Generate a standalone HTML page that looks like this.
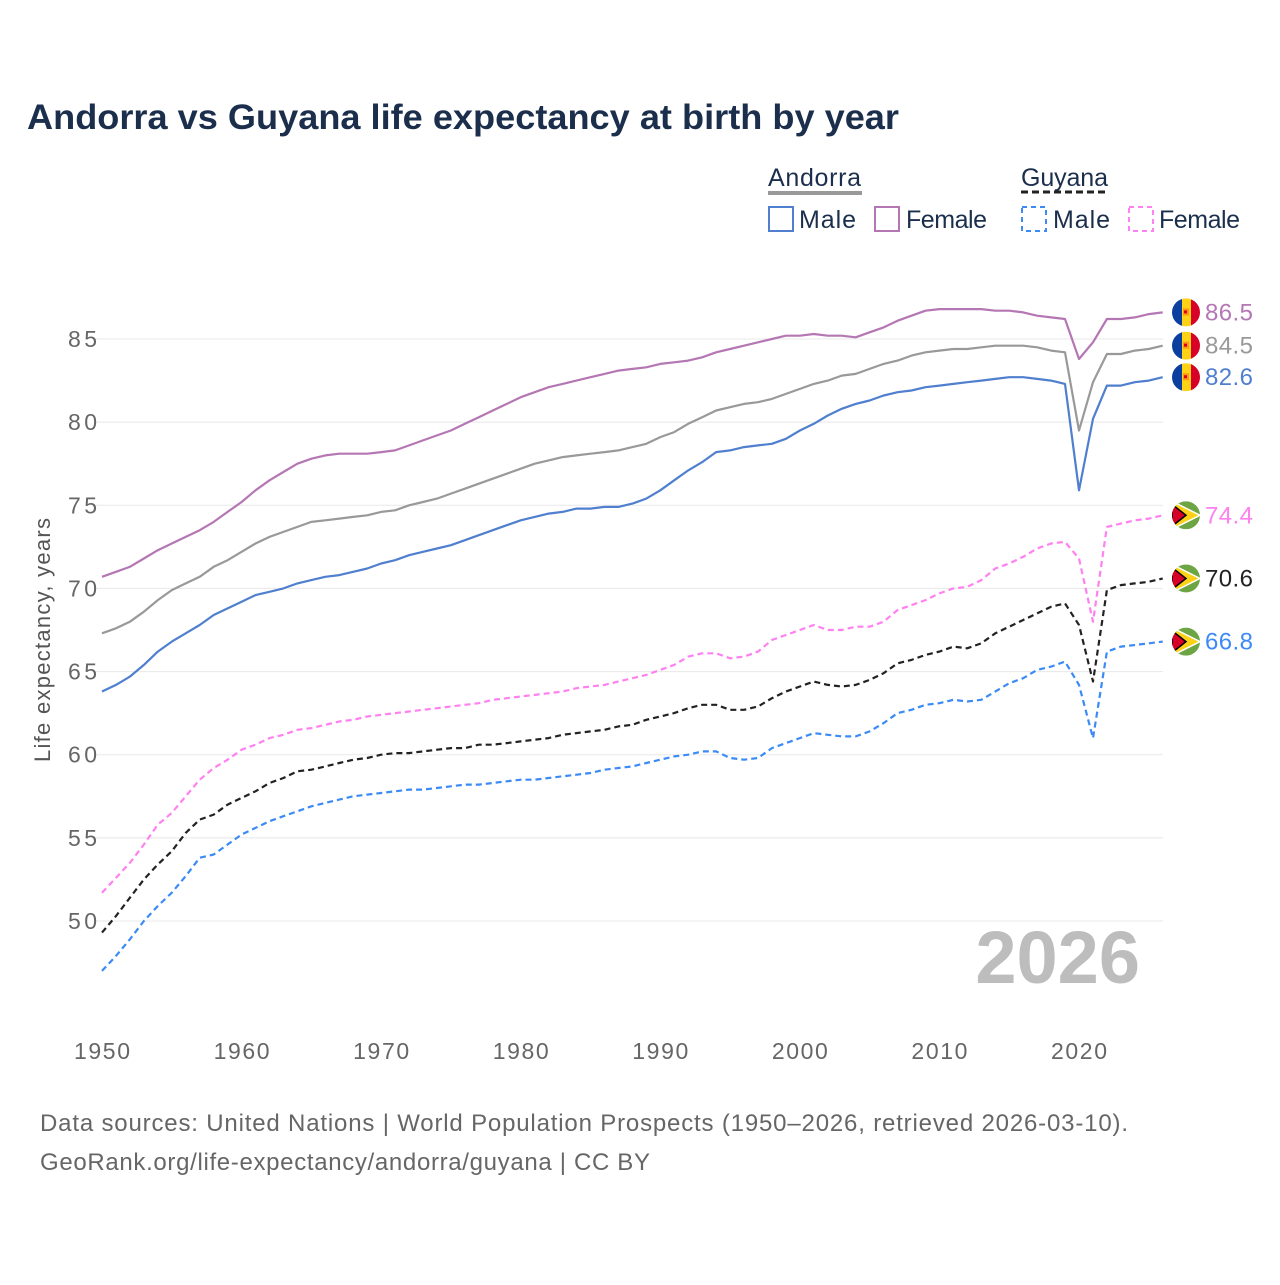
<!DOCTYPE html>
<html><head><meta charset="utf-8"><style>
body{margin:0;background:#fff;}
svg text{font-family:"Liberation Sans",sans-serif;}
</style></head><body>
<svg id="chart" width="1280" height="1280" xmlns="http://www.w3.org/2000/svg">
<rect width="1280" height="1280" fill="#fff"/>
<text x="27" y="129" font-size="35" font-weight="bold" fill="#1b2f4d" textLength="872" lengthAdjust="spacingAndGlyphs">Andorra vs Guyana life expectancy at birth by year</text>
<g>
<text x="768" y="186" font-size="25" fill="#1b2f4d" textLength="93">Andorra</text>
<line x1="768" x2="862" y1="193" y2="193" stroke="#999" stroke-width="4"/>
<text x="1021" y="186" font-size="25" fill="#1b2f4d" textLength="87">Guyana</text>
<line x1="1021" x2="1108" y1="192" y2="192" stroke="#222" stroke-width="3" stroke-dasharray="7,4"/>
<g><rect x="769" y="207" width="24" height="24" fill="none" stroke="#4f7fce" stroke-width="2"/><text x="799" y="228" font-size="25" fill="#1b2f4d" textLength="57">Male</text></g>
<g><rect x="875" y="207" width="24" height="24" fill="none" stroke="#b577b3" stroke-width="2"/><text x="906" y="228" font-size="25" fill="#1b2f4d" textLength="81">Female</text></g>
<g><rect x="1022" y="207" width="24" height="24" fill="none" stroke="#3b8af6" stroke-width="2" stroke-dasharray="5,4"/><text x="1053" y="228" font-size="25" fill="#1b2f4d" textLength="57">Male</text></g>
<g><rect x="1129" y="207" width="24" height="24" fill="none" stroke="#ff80f0" stroke-width="2" stroke-dasharray="5,4"/><text x="1159" y="228" font-size="25" fill="#1b2f4d" textLength="81">Female</text></g>
</g>
<text transform="translate(50,640) rotate(-90)" text-anchor="middle" font-size="22" fill="#555" textLength="244">Life expectancy, years</text>
<g id="grid"></g>
<text x="1140" y="983" text-anchor="end" font-size="74" font-weight="bold" fill="#bdbdbd">2026</text>
<g id="series"></g>
<g id="labels"></g>
<text x="40" y="1131" font-size="24" fill="#666" textLength="1088">Data sources: United Nations | World Population Prospects (1950–2026, retrieved 2026-03-10).</text>
<text x="40" y="1170" font-size="24" fill="#666" textLength="610">GeoRank.org/life-expectancy/andorra/guyana | CC BY</text>
</svg>
<script>
const startYear = 1950;
const yTicks = [50,55,60,65,70,75,80,85];
const xTicks = [1950,1960,1970,1980,1990,2000,2010,2020];
const andorraFemale = [70.7,71.0,71.3,71.8,72.3,72.7,73.1,73.5,74.0,74.6,75.2,75.9,76.5,77.0,77.5,77.8,78.0,78.1,78.1,78.1,78.2,78.3,78.6,78.9,79.2,79.5,79.9,80.3,80.7,81.1,81.5,81.8,82.1,82.3,82.5,82.7,82.9,83.1,83.2,83.3,83.5,83.6,83.7,83.9,84.2,84.4,84.6,84.8,85.0,85.2,85.2,85.3,85.2,85.2,85.1,85.4,85.7,86.1,86.4,86.7,86.8,86.8,86.8,86.8,86.7,86.7,86.6,86.4,86.3,86.2,83.8,84.8,86.2,86.2,86.3,86.5,86.6];
const andorraTotal = [67.3,67.6,68.0,68.6,69.3,69.9,70.3,70.7,71.3,71.7,72.2,72.7,73.1,73.4,73.7,74.0,74.1,74.2,74.3,74.4,74.6,74.7,75.0,75.2,75.4,75.7,76.0,76.3,76.6,76.9,77.2,77.5,77.7,77.9,78.0,78.1,78.2,78.3,78.5,78.7,79.1,79.4,79.9,80.3,80.7,80.9,81.1,81.2,81.4,81.7,82.0,82.3,82.5,82.8,82.9,83.2,83.5,83.7,84.0,84.2,84.3,84.4,84.4,84.5,84.6,84.6,84.6,84.5,84.3,84.2,79.5,82.4,84.1,84.1,84.3,84.4,84.6];
const andorraMale = [63.8,64.2,64.7,65.4,66.2,66.8,67.3,67.8,68.4,68.8,69.2,69.6,69.8,70.0,70.3,70.5,70.7,70.8,71.0,71.2,71.5,71.7,72.0,72.2,72.4,72.6,72.9,73.2,73.5,73.8,74.1,74.3,74.5,74.6,74.8,74.8,74.9,74.9,75.1,75.4,75.9,76.5,77.1,77.6,78.2,78.3,78.5,78.6,78.7,79.0,79.5,79.9,80.4,80.8,81.1,81.3,81.6,81.8,81.9,82.1,82.2,82.3,82.4,82.5,82.6,82.7,82.7,82.6,82.5,82.3,75.9,80.2,82.2,82.2,82.4,82.5,82.7];
const guyanaFemale = [51.7,52.6,53.5,54.6,55.8,56.5,57.5,58.5,59.2,59.7,60.3,60.6,61.0,61.2,61.5,61.6,61.8,62.0,62.1,62.3,62.4,62.5,62.6,62.7,62.8,62.9,63.0,63.1,63.3,63.4,63.5,63.6,63.7,63.8,64.0,64.1,64.2,64.4,64.6,64.8,65.1,65.4,65.9,66.1,66.1,65.8,65.9,66.2,66.9,67.2,67.5,67.8,67.5,67.5,67.7,67.7,68.0,68.7,69.0,69.3,69.7,70.0,70.1,70.5,71.2,71.5,71.9,72.4,72.7,72.8,71.8,68.0,73.7,73.9,74.1,74.2,74.4];
const guyanaTotal = [49.3,50.3,51.4,52.5,53.4,54.2,55.3,56.1,56.4,57.0,57.4,57.8,58.3,58.6,59.0,59.1,59.3,59.5,59.7,59.8,60.0,60.1,60.1,60.2,60.3,60.4,60.4,60.6,60.6,60.7,60.8,60.9,61.0,61.2,61.3,61.4,61.5,61.7,61.8,62.1,62.3,62.5,62.8,63.0,63.0,62.7,62.7,62.9,63.4,63.8,64.1,64.4,64.2,64.1,64.2,64.5,64.9,65.5,65.7,66.0,66.2,66.5,66.4,66.7,67.3,67.7,68.1,68.5,68.9,69.1,67.8,64.4,69.9,70.2,70.3,70.4,70.6];
const guyanaMale = [47.0,47.9,48.9,50.0,50.9,51.7,52.7,53.8,54.0,54.6,55.2,55.6,56.0,56.3,56.6,56.9,57.1,57.3,57.5,57.6,57.7,57.8,57.9,57.9,58.0,58.1,58.2,58.2,58.3,58.4,58.5,58.5,58.6,58.7,58.8,58.9,59.1,59.2,59.3,59.5,59.7,59.9,60.0,60.2,60.2,59.8,59.7,59.8,60.4,60.7,61.0,61.3,61.2,61.1,61.1,61.4,61.9,62.5,62.7,63.0,63.1,63.3,63.2,63.3,63.8,64.3,64.6,65.1,65.3,65.6,64.2,61.0,66.2,66.5,66.6,66.7,66.8];
const endLabels = ["86.5","84.5","82.6","74.4","70.6","66.8"];

const NS="http://www.w3.org/2000/svg";
function xScale(yr){return 102+(yr-1950)*(1079-102)/70;}
function yScale(v){return 921-(v-50)*(921-339)/35;}
function mk(tag,attrs,parent){const e=document.createElementNS(NS,tag);for(const k in attrs)e.setAttribute(k,attrs[k]);parent.appendChild(e);return e;}
const grid=document.getElementById('grid');
yTicks.forEach(t=>{
  const l=mk('line',{x1:95,x2:1163,y1:yScale(t),y2:yScale(t),stroke:'#e8e8e8','stroke-width':1},grid);
  
  
  const tx=mk('text',{x:97,y:yScale(t)+8,'text-anchor':'end','font-size':23,fill:'#666',textLength:29},grid);
  tx.textContent=t;
  
  
});
xTicks.forEach(t=>{
  const tx=mk('text',{x:xScale(t),y:1059,'text-anchor':'middle','font-size':23,fill:'#666',textLength:56},grid);
  tx.textContent=t;
  
  
});
const seriesList=[
 {d:andorraFemale,c:'#b577b3',dash:null,n:'andorra-female',f:'and',lc:'#b577b3'},
 {d:andorraTotal,c:'#999999',dash:null,n:'andorra-total',f:'and',lc:'#999'},
 {d:andorraMale,c:'#4f7fce',dash:null,n:'andorra-male',f:'and',lc:'#4f7fce'},
 {d:guyanaFemale,c:'#ff80f0',dash:'6,4',n:'guyana-female',f:'guy',lc:'#ff80f0'},
 {d:guyanaTotal,c:'#222222',dash:'6,4',n:'guyana-total',f:'guy',lc:'#222'},
 {d:guyanaMale,c:'#3b8af6',dash:'6,4',n:'guyana-male',f:'guy',lc:'#3b8af6'}
];
const sg=document.getElementById('series'), lg=document.getElementById('labels');
seriesList.forEach((s,i)=>{
  const pts=s.d.map((v,j)=>xScale(startYear+j).toFixed(1)+','+yScale(v).toFixed(1)).join(' ');
  const pl=mk('polyline',{points:pts,fill:'none',stroke:s.c,'stroke-width':2.2,'stroke-linejoin':'round'},sg);
  if(s.dash)pl.setAttribute('stroke-dasharray',s.dash);
  
  
  const last=s.d[s.d.length-1];
  const cy=yScale(last), cx=1186;
  const g=mk('g',{},lg);
  
  
  const cp='cp'+i;
  const defs=mk('defs',{},g);const clip=mk('clipPath',{id:cp},defs);mk('circle',{cx:cx,cy:cy,r:14},clip);
  const inner=mk('g',{'clip-path':'url(#'+cp+')'},g);
  if(s.f==='and'){
    mk('rect',{x:cx-14,y:cy-14,width:10,height:28,fill:'#0a3fa0'},inner);
    mk('rect',{x:cx-4,y:cy-14,width:9,height:28,fill:'#fcd116'},inner);
    mk('rect',{x:cx+5,y:cy-14,width:10,height:28,fill:'#d80027'},inner);
    mk('rect',{x:cx-3,y:cy-4,width:6,height:7,fill:'#ff9811'},inner);
    mk('rect',{x:cx-2,y:cy-2,width:3,height:3,fill:'#d80027'},inner);
  } else {
    mk('rect',{x:cx-14,y:cy-14,width:28,height:28,fill:'#6da544'},inner);
    mk('polygon',{points:`${cx-14},${cy-14} ${cx+14},${cy} ${cx-14},${cy+14}`,fill:'#fcd116',stroke:'#fff','stroke-width':1.5},inner);
    mk('polygon',{points:`${cx-14},${cy-11} ${cx},${cy} ${cx-14},${cy+11}`,fill:'#d80027',stroke:'#000','stroke-width':1.5},inner);
  }
  const tx=mk('text',{x:1205,y:cy+8,'font-size':24,fill:s.lc,textLength:48},lg);
  tx.textContent=endLabels[i];
  
  
});
</script>
</body></html>
